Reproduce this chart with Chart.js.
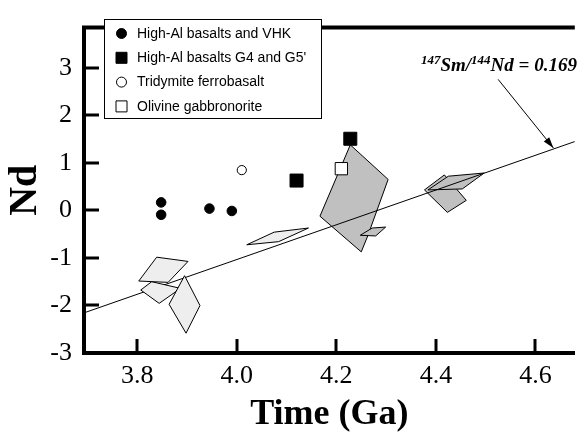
<!DOCTYPE html>
<html>
<head>
<meta charset="utf-8">
<script src="https://cdn.jsdelivr.net/npm/chart.js@4.4.1/dist/chart.umd.min.js"></script>
<style>
    html, body { margin: 0; padding: 0; background: #fff; }
    #wrap { width: 585px; height: 437px; }
</style>
</head>
<body>
<div id="wrap"><canvas id="ndChart" width="585" height="437"></canvas></div>
<script>
// tick labels
const xTicks = [3.8, 4.0, 4.2, 4.4, 4.6];
const yTicks = [-3, -2, -1, 0, 1, 2, 3];

// sample points (Time in Ga, eNd)
const vhkX = [3.848, 3.848, 3.945, 3.990];
const vhkY = [0.17, -0.09, 0.04, -0.01];
const g4g5X = [4.120, 4.228];
const g4g5Y = [0.63, 1.51];
const ferroX = [4.010];
const ferroY = [0.85];
const olivineX = [4.210];
const olivineY = [0.88];

// isochron fields, [time, eNd] corners
const polyA = [[3.839, -0.983], [3.902, -1.072], [3.862, -1.513], [3.803, -1.485]];
const polyB = [[3.807, -1.674], [3.829, -1.499], [3.887, -1.640], [3.844, -1.955]];
const polyC = [[3.895, -1.373], [3.926, -2.001], [3.898, -2.583], [3.864, -1.975]];
const polyD = [[4.020, -0.722], [4.075, -0.456], [4.144, -0.369], [4.084, -0.656]];
const polyE = [[4.228, 1.381], [4.304, 0.654], [4.263, -0.536], [4.250, -0.871], [4.167, -0.120]];
const polyF = [[4.248, -0.522], [4.272, -0.369], [4.299, -0.349], [4.279, -0.536]];
const polyG = [[4.384, 0.433], [4.425, 0.722], [4.497, 0.789], [4.453, 0.454]];
const polyH = [[4.377, 0.433], [4.417, 0.749], [4.461, 0.213], [4.423, -0.040]];

// 147Sm/144Nd = 0.169 reference line
const refX = [3.693, 4.679];
const refY = [-2.155, 1.451];

// annotation: label anchor and arrow (start, end)
const noteAt = [4.370, 2.93];
const arrowX = [4.525, 4.636];
const arrowY = [2.76, 1.316];

const serif = '"Liberation Serif", "Times New Roman", serif';
const sans = '"Liberation Sans", Arial, sans-serif';

function toPoints(xs, ys) {
    return xs.map((x, i) => ({ x: x, y: ys[i] }));
}

function polygon(corners, color, order) {
    const pts = corners.map(c => ({ x: c[0], y: c[1] }));
    pts.push({ x: corners[0][0], y: corners[0][1] });
    return {
        type: 'line',
        data: pts,
        borderColor: '#000',
        borderWidth: 1,
        backgroundColor: color,
        fill: 'shape',
        pointRadius: 0,
        tension: 0,
        order: order
    };
}

// inward ticks, top frame line, legend box and the ratio annotation
const decorPlugin = {
    id: 'decor',
    afterDatasetsDraw(chart) {
        const ctx = chart.ctx;
        const area = chart.chartArea;
        const xs = chart.scales.x;
        const ys = chart.scales.y;
        ctx.save();
        ctx.strokeStyle = '#000';
        ctx.lineWidth = 3;
        ctx.beginPath();
        yTicks.forEach(v => {
            const py = Math.round(ys.getPixelForValue(v));
            if (py > area.bottom - 2) return;
            ctx.moveTo(area.left, py);
            ctx.lineTo(area.left + 15, py);
        });
        xTicks.forEach(v => {
            const px = Math.round(xs.getPixelForValue(v));
            ctx.moveTo(px, area.bottom);
            ctx.lineTo(px, area.bottom - 14);
        });
        ctx.stroke();

        // top frame
        ctx.lineWidth = 4;
        ctx.beginPath();
        ctx.moveTo(area.left - 2, area.top);
        ctx.lineTo(area.right, area.top);
        ctx.stroke();

        // arrow
        const ax0 = xs.getPixelForValue(arrowX[0]), ay0 = ys.getPixelForValue(arrowY[0]);
        const ax1 = xs.getPixelForValue(arrowX[1]), ay1 = ys.getPixelForValue(arrowY[1]);
        ctx.lineWidth = 1;
        ctx.beginPath();
        ctx.moveTo(ax0, ay0);
        ctx.lineTo(ax1, ay1);
        ctx.stroke();
        const ang = Math.atan2(ay1 - ay0, ax1 - ax0);
        ctx.fillStyle = '#000';
        ctx.beginPath();
        ctx.moveTo(ax1, ay1);
        ctx.lineTo(ax1 - 11 * Math.cos(ang) + 3.5 * Math.sin(ang), ay1 - 11 * Math.sin(ang) - 3.5 * Math.cos(ang));
        ctx.lineTo(ax1 - 11 * Math.cos(ang) - 3.5 * Math.sin(ang), ay1 - 11 * Math.sin(ang) + 3.5 * Math.cos(ang));
        ctx.closePath();
        ctx.fill();

        // ratio label with superscripts
        let tx = xs.getPixelForValue(noteAt[0]);
        const ty = ys.getPixelForValue(noteAt[1]);
        const parts = [['147', 13, -7], ['Sm/', 19, 0], ['144', 13, -7], ['Nd = 0.169', 19, 0]];
        ctx.textBaseline = 'alphabetic';
        ctx.textAlign = 'left';
        parts.forEach(p => {
            ctx.font = 'italic bold ' + p[1] + 'px ' + serif;
            ctx.fillText(p[0], tx, ty + p[2]);
            tx += ctx.measureText(p[0]).width;
        });
        ctx.restore();
    },
    afterDraw(chart) {
        const ctx = chart.ctx;
        const items = chart.data.datasets.filter(d => d.label);
        const left = 104.5, top = 19.5, w = 217, h = 99;
        ctx.save();
        ctx.fillStyle = '#fff';
        ctx.fillRect(left, top, w, h);
        ctx.strokeStyle = '#000';
        ctx.lineWidth = 1;
        ctx.strokeRect(left, top, w, h);
        ctx.font = '14px ' + sans;
        ctx.textBaseline = 'middle';
        ctx.textAlign = 'left';
        items.forEach((d, i) => {
            const cy = 33.5 + i * 24.3;
            const cx = 121.5;
            ctx.fillStyle = d.backgroundColor;
            ctx.strokeStyle = '#000';
            ctx.lineWidth = 1;
            ctx.beginPath();
            if (d.pointStyle === 'circle') {
                ctx.arc(cx, cy, 5, 0, Math.PI * 2);
            } else {
                ctx.rect(cx - 5.5, cy - 5.5, 11, 11);
            }
            ctx.fill();
            ctx.stroke();
            ctx.fillStyle = '#000';
            ctx.fillText(d.label, 137, cy + 0.5);
        });
        ctx.restore();
    }
};

const ctx = document.getElementById('ndChart').getContext('2d');
new Chart(ctx, {
    type: 'scatter',
    data: {
        datasets: [
            {
                label: 'High-Al basalts and VHK',
                data: toPoints(vhkX, vhkY),
                pointStyle: 'circle',
                pointRadius: 4.8,
                backgroundColor: '#000',
                borderColor: '#000',
                borderWidth: 1,
                order: 0
            },
            {
                label: "High-Al basalts G4 and G5'",
                data: toPoints(g4g5X, g4g5Y),
                pointStyle: 'rect',
                pointRadius: 9.2,
                backgroundColor: '#000',
                borderColor: '#000',
                borderWidth: 1,
                order: 0
            },
            {
                label: 'Tridymite ferrobasalt',
                data: toPoints(ferroX, ferroY),
                pointStyle: 'circle',
                pointRadius: 4.6,
                backgroundColor: '#fff',
                borderColor: '#000',
                borderWidth: 1,
                order: 0
            },
            {
                label: 'Olivine gabbronorite',
                data: toPoints(olivineX, olivineY),
                pointStyle: 'rect',
                pointRadius: 8.7,
                backgroundColor: '#fff',
                borderColor: '#000',
                borderWidth: 1,
                order: 0
            },
            polygon(polyA, '#eeeeee', 1),
            polygon(polyC, '#eeeeee', 2),
            polygon(polyB, '#eeeeee', 3),
            {
                type: 'line',
                data: toPoints(refX, refY),
                borderColor: '#000',
                borderWidth: 1,
                pointRadius: 0,
                fill: false,
                order: 4
            },
            polygon(polyD, '#eeeeee', 5),
            polygon(polyF, '#c0c0c0', 5),
            polygon(polyE, '#c0c0c0', 6),
            polygon(polyG, '#c0c0c0', 5),
            polygon(polyH, '#c0c0c0', 6)
        ]
    },
    options: {
        responsive: false,
        animation: false,
        devicePixelRatio: 1,
        layout: { padding: { top: 12, left: 0, right: 0, bottom: 0 } },
        plugins: {
            legend: { display: false },
            tooltip: { enabled: false }
        },
        scales: {
            x: {
                type: 'linear',
                position: 'bottom',
                min: 3.693,
                max: 4.679,
                grid: { display: false, drawTicks: false },
                border: { display: true, width: 4, color: '#000' },
                afterBuildTicks: s => { s.ticks = xTicks.map(v => ({ value: v })); },
                afterFit: s => { s.height = 84; },
                ticks: {
                    color: '#000',
                    font: { family: serif, size: 26 },
                    padding: 8,
                    maxRotation: 0,
                    autoSkip: false,
                    callback: v => Number(v).toFixed(1)
                },
                title: {
                    display: true,
                    text: 'Time (Ga)',
                    color: '#000',
                    font: { family: serif, size: 36, weight: 'bold' },
                    padding: { top: 0, bottom: 1 }
                }
            },
            y: {
                type: 'linear',
                min: -3,
                max: 3.85,
                grid: { display: false, drawTicks: false },
                border: { display: true, width: 4, color: '#000' },
                afterBuildTicks: s => { s.ticks = yTicks.map(v => ({ value: v })); },
                afterFit: s => { s.width = 84; },
                ticks: {
                    color: '#000',
                    font: { family: serif, size: 26 },
                    padding: 12,
                    callback: v => String(v)
                },
                title: {
                    display: true,
                    text: 'Nd',
                    color: '#000',
                    font: { family: serif, size: 40, weight: 'bold' },
                    padding: { top: 2, bottom: 0 }
                }
            }
        }
    },
    plugins: [decorPlugin]
});
</script>
</body>
</html>
